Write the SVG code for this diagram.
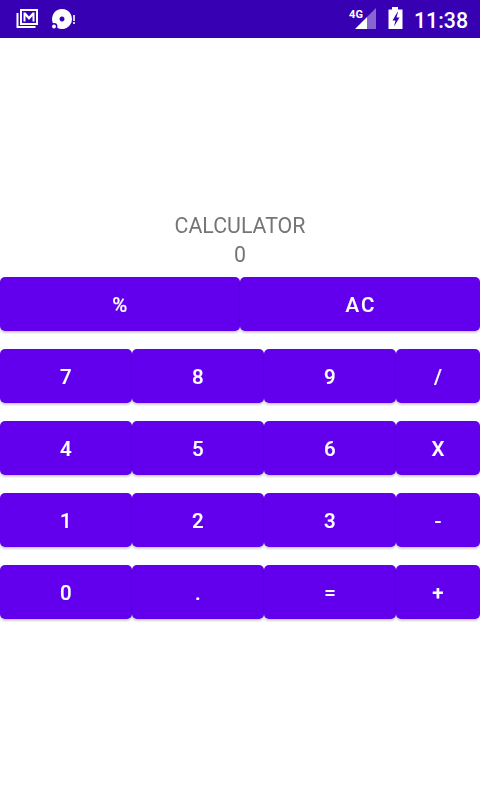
<svg xmlns="http://www.w3.org/2000/svg" width="480" height="800" viewBox="0 0 480 800">
<style>
.b{fill:#6200ee;filter:url(#s)}
.t{fill:#fff;font:500 20.5px Roboto,sans-serif;text-anchor:middle;letter-spacing:2.2px;transform:translate(1px,0);opacity:.999;stroke:#fff;stroke-width:.15px}
.h{fill:#757575;font:400 21.33px Roboto,sans-serif;text-anchor:middle;opacity:.999}
.i{fill:#fff}
</style>
<defs>
<filter id="s" x="-10%" y="-10%" width="120%" height="130%"><feDropShadow dx="0" dy="1.5" stdDeviation="1.3" flood-color="#000" flood-opacity=".25"/></filter>
<g id="k"><rect class="b" width="132" height="54" rx="5"/></g>
<g id="n"><rect class="b" width="84" height="54" rx="5"/></g>
<g id="w"><rect class="b" width="240" height="54" rx="5"/></g>
</defs>
<rect width="480" height="800" fill="#fff"/>
<g id="status">
<rect width="480" height="38" fill="#3700b3"/>
<path class="i" d="M16.500 13h2v13h17v2h-19z"/>
<path class="i" fill-rule="evenodd" d="M20 9h18v16H20zM22 11v12h14V11zM23.500 21.500V12.500h2l3.500 4 3.500-4h2v9h-2v-5.500l-3.500 4-3.500-4v5.500z"/>
<path class="i" fill-rule="evenodd" d="M62 9a10 10 0 1 1-.01 0zM62 16.500a2.500 2.500 0 1 0 .01 0z"/>
<circle class="i" cx="54" cy="26.500" r="2.700" stroke="#3700b3" stroke-width="1.500"/>
<rect x="73" y="15" width="2" height="6" class="i" opacity=".8"/><rect x="73" y="22" width="2" height="2" class="i" opacity=".8"/>
<text x="356" y="17.500" fill="#fff" font-family="Roboto,sans-serif" font-weight="700" font-size="11" text-anchor="middle">4G</text>
<path class="i" d="M355 29 367 17v12z"/>
<path class="i" opacity=".4" d="M367 17 376 8v21h-9z"/>
<path class="i" fill-rule="evenodd" d="M392 7h6v2.500h4.500v19.500h-14V9.500h3.500zM397.500 12l-5 8.500h3l-1.500 6 5.500-9h-3l1.500-5.500z"/>
<text x="441" y="28" fill="#fff" font-family="Roboto,sans-serif" font-weight="500" font-size="21.330" text-anchor="middle">11:38</text>
</g>
<g id="title"><text class="h" x="240" y="233">CALCULATOR</text></g>
<g id="display"><text class="h" x="240" y="262">0</text></g>
<g id="btn-percent"><use href="#w" x="0" y="277"/><text class="t" x="120" y="312">%</text></g>
<g id="btn-ac"><use href="#w" x="240" y="277"/><text class="t" x="360" y="312">AC</text></g>
<g id="btn-7"><use href="#k" x="0" y="349"/><text class="t" x="66" y="384">7</text></g>
<g id="btn-8"><use href="#k" x="132" y="349"/><text class="t" x="198" y="384">8</text></g>
<g id="btn-9"><use href="#k" x="264" y="349"/><text class="t" x="330" y="384">9</text></g>
<g id="btn-div"><use href="#n" x="396" y="349"/><text class="t" x="438" y="384">/</text></g>
<g id="btn-4"><use href="#k" x="0" y="421"/><text class="t" x="66" y="456">4</text></g>
<g id="btn-5"><use href="#k" x="132" y="421"/><text class="t" x="198" y="456">5</text></g>
<g id="btn-6"><use href="#k" x="264" y="421"/><text class="t" x="330" y="456">6</text></g>
<g id="btn-mul"><use href="#n" x="396" y="421"/><text class="t" x="438" y="456">X</text></g>
<g id="btn-1"><use href="#k" x="0" y="493"/><text class="t" x="66" y="528">1</text></g>
<g id="btn-2"><use href="#k" x="132" y="493"/><text class="t" x="198" y="528">2</text></g>
<g id="btn-3"><use href="#k" x="264" y="493"/><text class="t" x="330" y="528">3</text></g>
<g id="btn-sub"><use href="#n" x="396" y="493"/><text class="t" x="438" y="528">-</text></g>
<g id="btn-0"><use href="#k" x="0" y="565"/><text class="t" x="66" y="600">0</text></g>
<g id="btn-dot"><use href="#k" x="132" y="565"/><text class="t" x="198" y="600">.</text></g>
<g id="btn-eq"><use href="#k" x="264" y="565"/><text class="t" x="330" y="600">=</text></g>
<g id="btn-add"><use href="#n" x="396" y="565"/><text class="t" x="438" y="600">+</text></g>
<g id="connectors"/>
</svg>
